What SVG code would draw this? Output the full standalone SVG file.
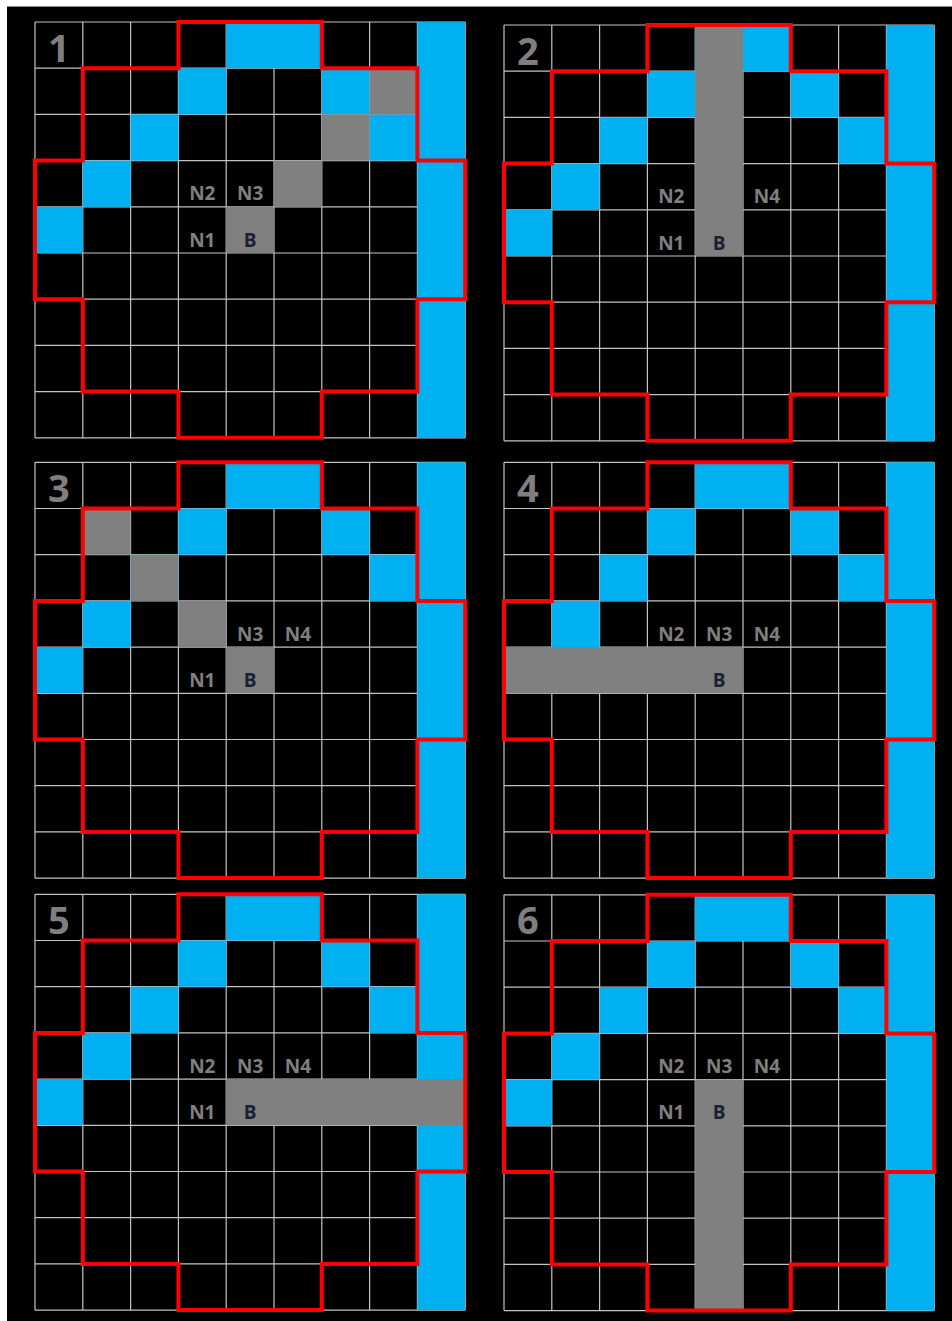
<svg xmlns="http://www.w3.org/2000/svg" xmlns:xlink="http://www.w3.org/1999/xlink" width="952" height="1321" viewBox="0 0 952 1321">
<style>
.grid{fill:none;stroke:#c4c4c4;stroke-width:1.2}
.cy{fill:#00b0f0}
.gr{fill:#808080}
.red{fill:none;stroke:#ff0000;stroke-width:4;stroke-linejoin:miter}
.lbl{font-family:"Open Sans","Liberation Sans",sans-serif;font-weight:700;font-size:19px;fill:#7f7f7f;text-anchor:middle}
.b{fill:#1c2033}
.num{font-size:38px}
</style>
<defs>
<g id="base">
<path class="grid" d="M0 0V415.8M47.8 0V415.8M95.6 0V415.8M143.4 0V415.8M191.2 0V415.8M239 0V415.8M286.8 0V415.8M334.6 0V415.8M382.4 0V415.8M430.2 0V415.8M0 0H430.2M0 46.2H430.2M0 92.4H430.2M0 138.6H430.2M0 184.8H430.2M0 231H430.2M0 277.2H430.2M0 323.4H430.2M0 369.6H430.2M0 415.8H430.2"/>
<rect class="cy" x="191.2" y="0" width="95.6" height="46.2"/>
<rect class="cy" x="143.4" y="46.2" width="47.8" height="46.2"/>
<rect class="cy" x="286.8" y="46.2" width="47.8" height="46.2"/>
<rect class="cy" x="95.6" y="92.4" width="47.8" height="46.2"/>
<rect class="cy" x="334.6" y="92.4" width="47.8" height="46.2"/>
<rect class="cy" x="47.8" y="138.6" width="47.8" height="46.2"/>
<rect class="cy" x="0" y="184.8" width="47.8" height="46.2"/>
<rect class="cy" x="382.4" y="0" width="47.8" height="415.8"/>
</g>
<path id="outline" class="red" d="M143.4 0H286.8V46.2H382.4V138.6H430.2V277.2H382.4V369.6H286.8V415.8H143.4V369.6H47.8V277.2H0V138.6H47.8V46.2H143.4Z"/>
</defs>
<rect x="0" y="0" width="952" height="1321" fill="#ffffff"/>
<rect x="7" y="6" width="945" height="1315" fill="#000000"/>
<line x1="7" y1="6.5" x2="952" y2="6.5" stroke="#8a8a8a" stroke-width="1"/>

<g id="panel1" transform="translate(35,22)">
<use xlink:href="#base"/>
<rect class="gr" x="191.2" y="184.8" width="47.8" height="46.2"/>
<rect class="gr" x="239" y="138.6" width="47.8" height="46.2"/>
<rect class="gr" x="286.8" y="92.4" width="47.8" height="46.2"/>
<rect class="gr" x="334.6" y="46.2" width="47.8" height="46.2"/>
<use xlink:href="#outline"/>
<text class="lbl num" x="23.9" y="39.5">1</text>
<text class="lbl" x="167.3" y="178.3">N2</text>
<text class="lbl" x="215.1" y="178.3">N3</text>
<text class="lbl" x="167.3" y="224.5">N1</text>
<text class="lbl b" x="215.1" y="224.5">B</text>
</g>

<g id="panel2" transform="translate(504,25)">
<use xlink:href="#base"/>
<rect class="gr" x="191.2" y="0" width="47.8" height="231"/>
<use xlink:href="#outline"/>
<text class="lbl num" x="23.9" y="39.5">2</text>
<text class="lbl" x="167.3" y="178.3">N2</text>
<text class="lbl" x="262.9" y="178.3">N4</text>
<text class="lbl" x="167.3" y="224.5">N1</text>
<text class="lbl b" x="215.1" y="224.5">B</text>
</g>

<g id="panel3" transform="translate(35,462.3)">
<use xlink:href="#base"/>
<rect class="gr" x="191.2" y="184.8" width="47.8" height="46.2"/>
<rect class="gr" x="143.4" y="138.6" width="47.8" height="46.2"/>
<rect class="gr" x="95.6" y="92.4" width="47.8" height="46.2"/>
<rect class="gr" x="47.8" y="46.2" width="47.8" height="46.2"/>
<use xlink:href="#outline"/>
<text class="lbl num" x="23.9" y="39.5">3</text>
<text class="lbl" x="215.1" y="178.3">N3</text>
<text class="lbl" x="262.9" y="178.3">N4</text>
<text class="lbl" x="167.3" y="224.5">N1</text>
<text class="lbl b" x="215.1" y="224.5">B</text>
</g>

<g id="panel4" transform="translate(504,462.3)">
<use xlink:href="#base"/>
<rect class="gr" x="0" y="184.8" width="239" height="46.2"/>
<use xlink:href="#outline"/>
<text class="lbl num" x="23.9" y="39.5">4</text>
<text class="lbl" x="167.3" y="178.3">N2</text>
<text class="lbl" x="215.1" y="178.3">N3</text>
<text class="lbl" x="262.9" y="178.3">N4</text>
<text class="lbl b" x="215.1" y="224.5">B</text>
</g>

<g id="panel5" transform="translate(35,894.3)">
<use xlink:href="#base"/>
<rect class="gr" x="191.2" y="184.8" width="239" height="46.2"/>
<use xlink:href="#outline"/>
<text class="lbl num" x="23.9" y="39.5">5</text>
<text class="lbl" x="167.3" y="178.3">N2</text>
<text class="lbl" x="215.1" y="178.3">N3</text>
<text class="lbl" x="262.9" y="178.3">N4</text>
<text class="lbl" x="167.3" y="224.5">N1</text>
<text class="lbl b" x="215.1" y="224.5">B</text>
</g>

<g id="panel6" transform="translate(504,894.8)">
<use xlink:href="#base"/>
<rect class="gr" x="191.2" y="184.8" width="47.8" height="231"/>
<use xlink:href="#outline"/>
<text class="lbl num" x="23.9" y="39.5">6</text>
<text class="lbl" x="167.3" y="178.3">N2</text>
<text class="lbl" x="215.1" y="178.3">N3</text>
<text class="lbl" x="262.9" y="178.3">N4</text>
<text class="lbl" x="167.3" y="224.5">N1</text>
<text class="lbl b" x="215.1" y="224.5">B</text>
</g>
</svg>
